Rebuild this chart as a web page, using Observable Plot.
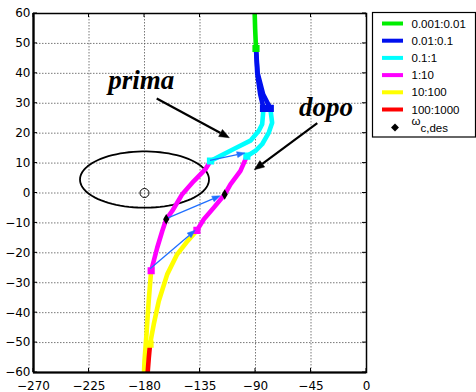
<!DOCTYPE html>
<html><head><meta charset="utf-8">
<script src="https://cdn.jsdelivr.net/npm/d3@7"></script>
<script src="https://cdn.jsdelivr.net/npm/@observablehq/plot@0.6"></script>
<style>
body{margin:0;background:#fff}
#wrap{position:relative;width:476px;height:392px;background:#fff}
#wrap svg{position:absolute;left:0;top:0}
</style>
</head><body><div id="wrap"></div>
<script>
// ---- axes ----
const xTicks = [-270, -225, -180, -135, -90, -45, 0];
const yTicks = [-60, -50, -40, -30, -20, -10, 0, 10, 20, 30, 40, 50, 60];

// ---- frequency bands (legend) ----
const bandLabels = ["0.001:0.01", "0.01:0.1", "0.1:1", "1:10", "10:100", "100:1000"];
const bandColors = ["#00ee00", "#0010ee", "#00ffff", "#ff00ff", "#ffff00", "#ff0000"];

// ---- Nichols curves: [phase deg, gain dB] ----
const green = [[-90.8, 62], [-90.3, 55], [-89.6, 48.3]];
const primaBlue = [[-89.6, 48.3], [-88.6, 40], [-86.2, 33], [-83.5, 28.3]];
const dopoBlue = [[-89.6, 48.3], [-88.2, 40], [-83.8, 33], [-78, 28.3]];
const primaCyan = [[-83.5, 28.3], [-84.6, 23], [-87.3, 20.8], [-94.1, 17.5], [-107.6, 14.7], [-118.4, 12.4], [-126.5, 10.7]];
const dopoCyan = [[-78, 28.3], [-76.5, 23.5], [-79.2, 20.2], [-84.6, 16.3], [-90, 14.1], [-97, 12.3]];
const primaMagenta = [[-126.5, 10.7], [-130.5, 8.0], [-140, 4.0], [-149.4, -0.4], [-157.5, -6], [-162.4, -8.8], [-165.6, -12.7], [-169.7, -18.3], [-174.6, -26]];
const dopoMagenta = [[-97, 12.3], [-102.2, 7.4], [-110.3, 2.9], [-115, -0.5], [-123.8, -4.9], [-131.9, -8.8], [-137.5, -12.5]];
const primaYellow = [[-174.6, -26], [-175.8, -32], [-176.6, -36.1], [-178.4, -47.2], [-180, -56.2], [-180.6, -62]];
const dopoYellow = [[-137.5, -12.5], [-145, -16], [-153.5, -20.5], [-161.6, -27.2], [-168.4, -36.1], [-172.5, -43.9], [-175.5, -50.5]];
const dopoRed = [[-175.5, -50.5], [-176.5, -55], [-177.8, -62]];

// ---- design points (omega_c,des) ----
const wcX = [-162.4, -115];
const wcY = [-8.8, -0.5];

// ---- blue arrows prima -> dopo ----
const blueFrom = [[-126.5, 10.7], [-162.4, -8.8], [-175.1, -25.5]];
const blueTo = [[-98.1, 13.2], [-118.2, -1.1], [-138.5, -12.6]];

// ---- annotations ----
const annLabels = ["prima", "dopo"];
const annX = [-182.7, -32.8];
const annY = [37.7, 28.6];
const annFrom = [[-169.7, 31.4], [-39.5, 23.2]];
const annTo = [[-110.8, 18.3], [-90.6, 7.6]];

// ---- forbidden region ellipse and critical point ----
const ellipseCenter = [-180, 4.5];
const ellipseRadii = [52.3, 9.4];
const critical = [[-180, 0]];

// build tables
const segments = [
  {band: 0, pts: green}, {band: 1, pts: primaBlue}, {band: 2, pts: primaCyan},
  {band: 3, pts: primaMagenta}, {band: 4, pts: primaYellow},
  {band: 1, pts: dopoBlue}, {band: 2, pts: dopoCyan},
  {band: 3, pts: dopoMagenta}, {band: 4, pts: dopoYellow}, {band: 5, pts: dopoRed}
];
const ellipse = d3.range(0, 361, 4).map(t => {
  const a = t * Math.PI / 180;
  return [ellipseCenter[0] + ellipseRadii[0] * Math.cos(a), ellipseCenter[1] + ellipseRadii[1] * Math.sin(a)];
});
const segEnds = segments.map(s => ({x: s.pts[s.pts.length - 1][0], y: s.pts[s.pts.length - 1][1], c: bandColors[s.band]}));

function arrows(from, to, {stroke, width, headLength, headWidth}) {
  return (index, scales) => {
    const g = d3.create("svg:g");
    from.forEach((f, i) => {
      const x1 = scales.x(f[0]), y1 = scales.y(f[1]);
      const x2 = scales.x(to[i][0]), y2 = scales.y(to[i][1]);
      const ang = Math.atan2(y2 - y1, x2 - x1);
      const bx = x2 - headLength * Math.cos(ang), by = y2 - headLength * Math.sin(ang);
      const px = -Math.sin(ang) * headWidth / 2, py = Math.cos(ang) * headWidth / 2;
      g.append("line").attr("x1", x1).attr("y1", y1).attr("x2", bx).attr("y2", by)
        .attr("stroke", stroke).attr("stroke-width", width);
      g.append("path").attr("d", `M${x2},${y2}L${bx + px},${by + py}L${bx - px},${by - py}Z`)
        .attr("fill", stroke).attr("stroke", stroke).attr("stroke-width", 0.5);
    });
    return g.node();
  };
}
function innerTicks(len) {
  return (index, scales, values, dim) => {
    const g = d3.create("svg:g").attr("stroke", "black").attr("stroke-width", 1);
    const L = dim.marginLeft, R = dim.width - dim.marginRight, T = dim.marginTop, B = dim.height - dim.marginBottom;
    xTicks.forEach(v => {
      const x = scales.x(v);
      g.append("line").attr("x1", x).attr("x2", x).attr("y1", T).attr("y2", T + len);
      g.append("line").attr("x1", x).attr("x2", x).attr("y1", B).attr("y2", B - len);
    });
    yTicks.forEach(v => {
      const y = scales.y(v);
      g.append("line").attr("y1", y).attr("y2", y).attr("x1", L).attr("x2", L + len);
      g.append("line").attr("y1", y).attr("y2", y).attr("x1", R).attr("x2", R - len);
    });
    return g.node();
  };
}

const gridStyle = {stroke: "#555", strokeOpacity: 1, strokeWidth: 0.8, strokeDasharray: "1.5,1.5"};

const marks = [
  Plot.gridX(xTicks, gridStyle),
  Plot.gridY(yTicks, gridStyle),
  Plot.axisX(xTicks, {tickSize: 0, tickPadding: 9, label: null, fontSize: 12}),
  Plot.axisY(yTicks, {tickSize: 0, tickPadding: 3, label: null, fontSize: 12}),
  innerTicks(4),
  Plot.line(ellipse, {x: d => d[0], y: d => d[1], stroke: "black", strokeWidth: 1.8, clip: true}),
  Plot.dot(critical, {x: d => d[0], y: d => d[1], r: 4.5, stroke: "black", strokeWidth: 1, fill: "none"}),
  ...segments.map(s => Plot.line(s.pts, {x: d => d[0], y: d => d[1], stroke: bandColors[s.band], strokeWidth: 4.6, strokeLinecap: "round", strokeLinejoin: "round", clip: true})),
  Plot.dot(segEnds, {x: "x", y: "y", fill: "c", stroke: "c", symbol: "square", r: 3.2, clip: true}),
  arrows(blueFrom, blueTo, {stroke: "#1f6fff", width: 1.3, headLength: 8, headWidth: 6}),
  Plot.dot(wcX.map((x, i) => ({x, y: wcY[i]})), {x: "x", y: "y", symbol: "diamond", r: 3.2, fill: "black"}),
  Plot.text(annLabels, {x: (d, i) => annX[i], y: (d, i) => annY[i], text: d => d, fontFamily: "Liberation Serif", fontWeight: "bold", fontStyle: "italic", fontSize: 27, fill: "black"}),
  arrows(annFrom, annTo, {stroke: "black", width: 2.2, headLength: 10, headWidth: 8}),
  Plot.frame({stroke: "black", strokeWidth: 1.5}),
  Plot.ruleX([-270], {stroke: "black", strokeWidth: 2.2}),
  Plot.ruleY([-60], {stroke: "black", strokeWidth: 2.2})
];

const chart = Plot.plot({
  width: 476, height: 392,
  marginLeft: 33, marginRight: 110, marginTop: 13, marginBottom: 20,
  x: {domain: [-270, 0]},
  y: {domain: [-60, 60]},
  style: {fontFamily: "DejaVu Sans", fontSize: "12px", color: "black", background: "white", overflow: "visible"},
  marks
});
const wrap = document.getElementById("wrap");
wrap.appendChild(chart);

// ---- legend ----
const leg = d3.select(wrap).append("svg").attr("width", 476).attr("height", 392)
  .style("pointer-events", "none").style("font-family", "'Liberation Sans', Arial, sans-serif").style("font-size", "11.5px");
leg.append("rect").attr("x", 372.5).attr("y", 12.5).attr("width", 103).attr("height", 124.5)
  .attr("fill", "white").attr("stroke", "black").attr("stroke-width", 1.2);
bandLabels.forEach((lab, i) => {
  const y = 23.5 + i * 17.2;
  leg.append("line").attr("x1", 382).attr("x2", 403).attr("y1", y).attr("y2", y)
    .attr("stroke", bandColors[i]).attr("stroke-width", 4);
  leg.append("text").attr("x", 411.5).attr("y", y + 4).text(lab);
});
leg.append("path").attr("d", d3.symbol(d3.symbolDiamond2, 40)()).attr("transform", "translate(395,127.5)").attr("fill", "black");
const wt = leg.append("text").attr("x", 411.5).attr("y", 124.5);
wt.append("tspan").text("ω");
wt.append("tspan").attr("dy", 7).attr("font-size", "11.5px").text("c,des");
</script>
</body></html>
